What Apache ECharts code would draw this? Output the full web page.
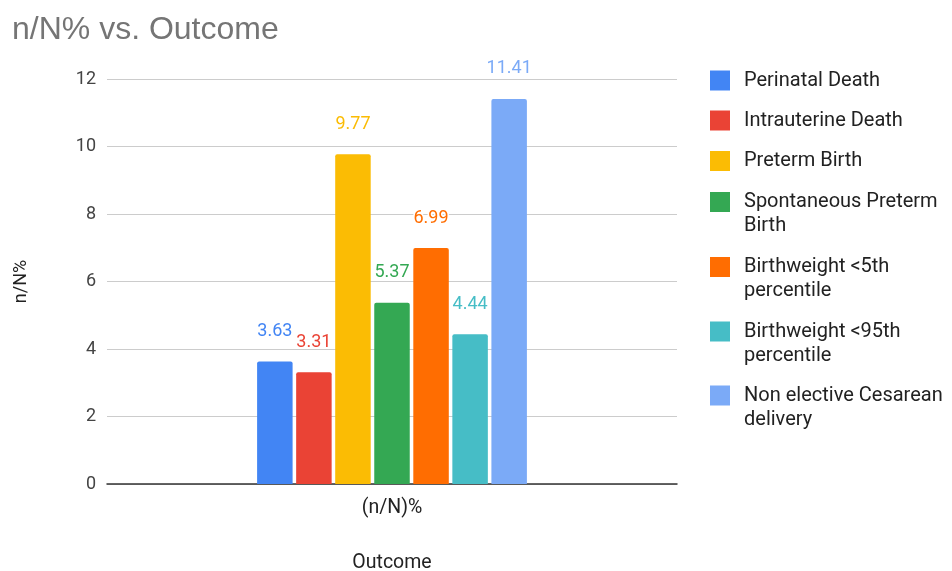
<!DOCTYPE html>
<html>
<head>
<meta charset="utf-8">
<script src="https://cdn.jsdelivr.net/npm/echarts@6/dist/echarts.min.js"></script>
<style>html,body{margin:0;padding:0;background:#fff}#c{width:952px;height:571px}</style>
</head>
<body>
<div id="c"></div>
<script>
var categories = ['(n/N)%'];
var seriesNames = ['Perinatal Death', 'Intrauterine Death', 'Preterm Birth', 'Spontaneous Preterm Birth', 'Birthweight <5th percentile', 'Birthweight <95th percentile', 'Non elective Cesarean delivery'];
var legendLabels = ['Perinatal Death', 'Intrauterine Death', 'Preterm Birth', 'Spontaneous Preterm\nBirth', 'Birthweight <5th\npercentile', 'Birthweight <95th\npercentile', 'Non elective Cesarean\ndelivery'];
var values = [3.63, 3.31, 9.77, 5.37, 6.99, 4.44, 11.41];
var colors = ['#4285F4', '#EA4335', '#FBBC04', '#34A853', '#FF6D01', '#46BDC6', '#7BAAF7'];
var yTicks = [0, 2, 4, 6, 8, 10, 12];

var legendIconTops = [70.5, 110.5, 151, 192, 257, 321.5, 385.5];

var chart = echarts.init(document.getElementById('c'), null, {renderer: 'canvas'});
var font = 'Roboto, "Liberation Sans", Arial, sans-serif';

var series = seriesNames.map(function (name, i) {
  return {
    name: name,
    type: 'bar',
    data: [values[i]],
    barWidth: 35.5,
    barGap: '10%',
    itemStyle: {color: colors[i], borderRadius: [2, 2, 0, 0]},
    label: {
      show: true,
      position: 'top',
      distance: 21,
      color: colors[i],
      fontFamily: font,
      fontSize: 18,
      textBorderColor: '#fff',
      textBorderWidth: 3,
      formatter: function (p) { return p.value.toFixed(2); }
    }
  };
});

// square icon (20x20); for two-line items an invisible point extends the icon box to 44px tall
var squareIcon = 'path://M0,0L20,0L20,20L0,20Z';
var tallIcon = 'path://M0,0L20,0L20,20L0,20Z M0,44L0.01,44L0.01,44Z';

var legends = seriesNames.map(function (name, i) {
  var multi = legendLabels[i].indexOf('\n') >= 0;
  return {
    orient: 'vertical',
    left: 710,
    top: legendIconTops[i] - 2,
    padding: 0,
    itemWidth: 20,
    itemHeight: multi ? 44 : 20,
    icon: multi ? tallIcon : squareIcon,
    itemStyle: {borderWidth: 0},
    selectedMode: false,
    data: [name],
    formatter: function () { return legendLabels[i]; },
    textStyle: {
      fontFamily: font,
      fontSize: 20,
      lineHeight: 24,
      color: '#222',
      padding: [0, 0, 0, 9]
    }
  };
});

chart.setOption({
  animation: false,
  backgroundColor: '#fff',
  color: colors,
  title: {
    text: 'n/N% vs. Outcome',
    left: 7,
    top: 9,
    textStyle: {fontFamily: '"Liberation Sans", Arial, sans-serif', fontSize: 32, fontWeight: 'normal', color: '#757575'}
  },
  legend: legends,
  grid: {left: 107, right: 275, top: 79, bottom: 87, containLabel: false, outerBoundsMode: 'none'},
  xAxis: {
    type: 'category',
    data: categories,
    name: 'Outcome',
    nameLocation: 'middle',
    nameGap: 69,
    nameTextStyle: {fontFamily: font, fontSize: 19.5, color: '#222'},
    axisLine: {lineStyle: {color: '#333', width: 1.5}},
    axisTick: {show: false},
    axisLabel: {fontFamily: font, fontSize: 19.5, color: '#222', margin: 14}
  },
  yAxis: {
    type: 'value',
    min: yTicks[0],
    max: yTicks[yTicks.length - 1],
    interval: 2,
    name: 'n/N%',
    nameLocation: 'middle',
    nameGap: 77,
    nameTextStyle: {fontFamily: font, fontSize: 18, color: '#222'},
    axisLine: {show: false},
    axisTick: {show: false},
    axisLabel: {fontFamily: font, fontSize: 18, color: '#444', margin: 11},
    splitLine: {lineStyle: {color: '#ccc', width: 1}}
  },
  series: series
});
</script>
</body>
</html>
